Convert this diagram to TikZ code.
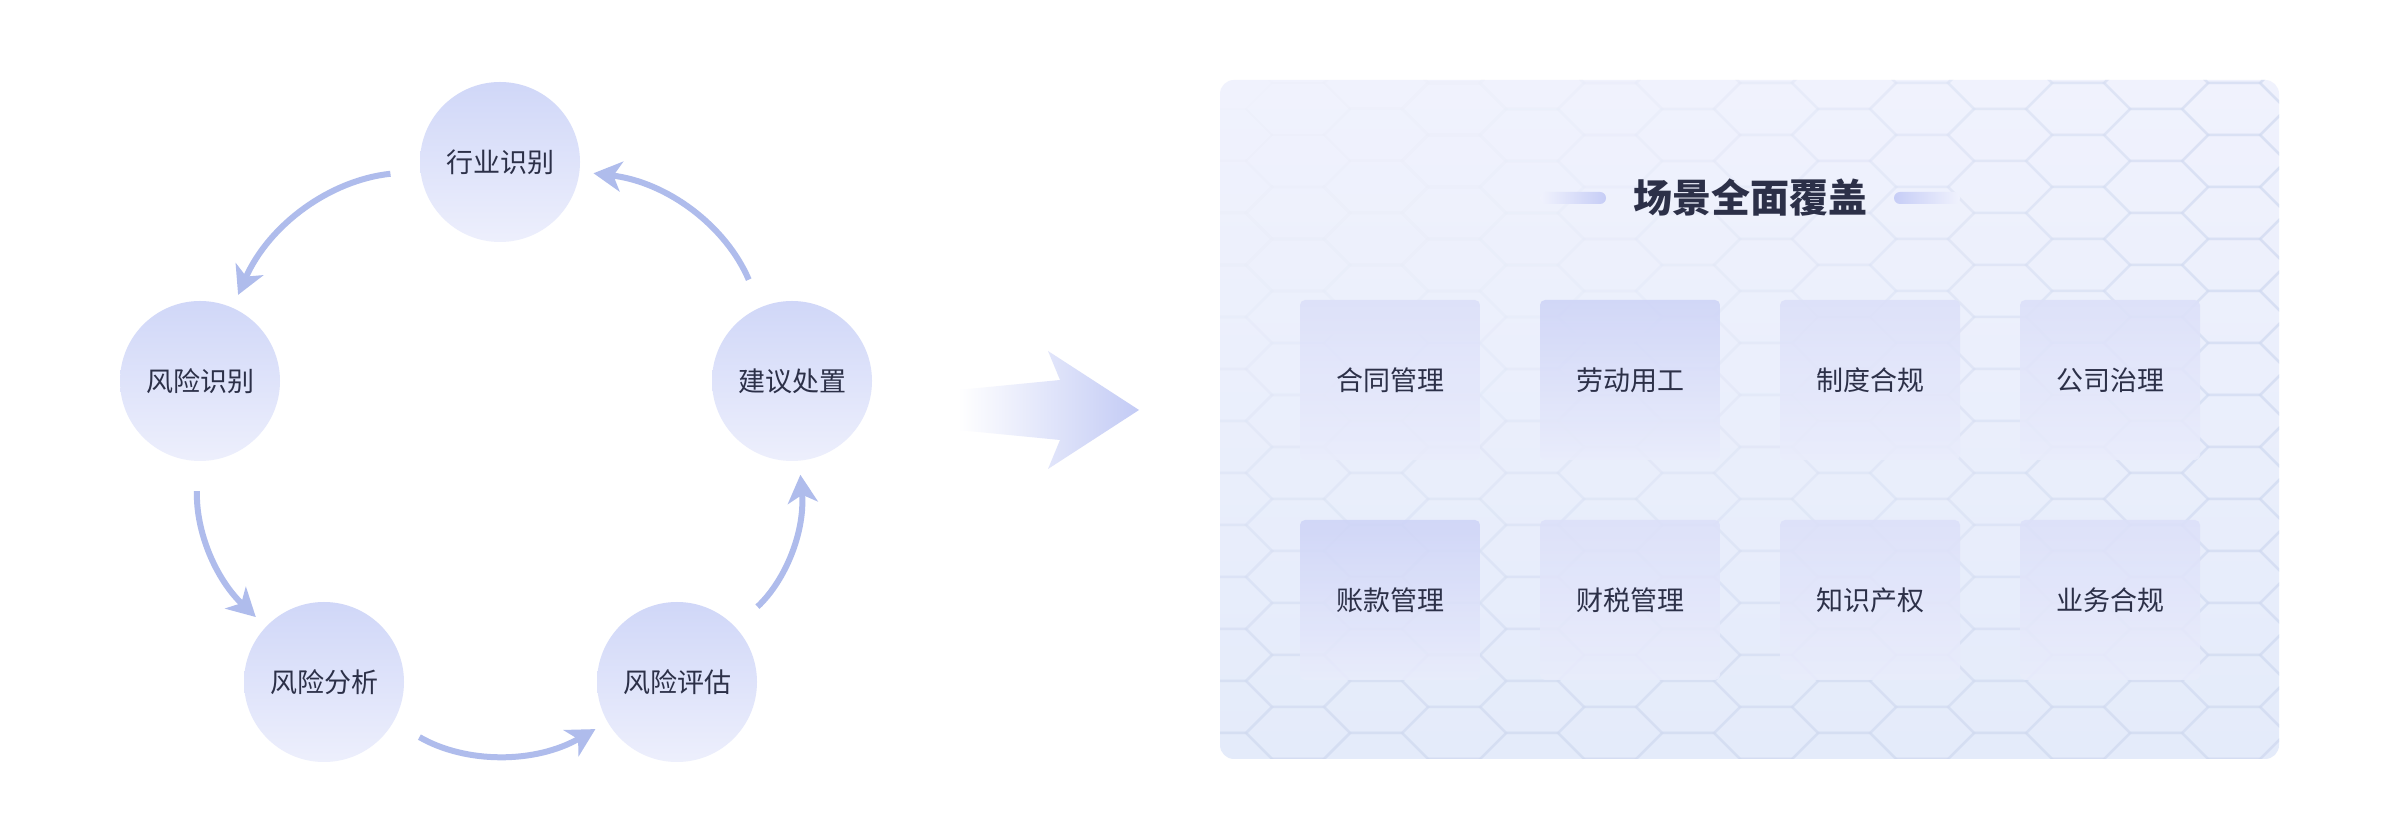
\documentclass[tikz,border=0pt]{standalone}
\usepackage{xcolor}
\usepackage{fontspec}
\setmainfont{Noto Sans CJK SC}
\usepackage{tikz}
\usetikzlibrary{positioning, arrows.meta}

\definecolor{ringtop}{HTML}{D0D7F8}
\definecolor{ringbot}{HTML}{EDEFFC}
\definecolor{flowblue}{HTML}{AFBCEC}
\definecolor{inkdark}{HTML}{2C3048}
\definecolor{panelbg}{HTML}{F0F2FD}
\definecolor{panelbot}{HTML}{E4EBFA}
\definecolor{cardtop}{HTML}{DCE0F9}
\definecolor{carddeep}{HTML}{CED4F7}
\definecolor{cardbot}{HTML}{E9ECFB}
\definecolor{hexline}{HTML}{CDD7EF}
\definecolor{barblue}{HTML}{C6CDF6}
\definecolor{bigarrow}{HTML}{C3CBF5}

\begin{document}
\begin{tikzpicture}[x=1pt, y=1pt, node distance=240pt, on grid,
        stage/.style={circle, minimum size=160pt, inner sep=0pt, top color=ringtop, bottom color=ringbot,
            text=inkdark, font=\fontsize{27}{32}\selectfont},
        scene/.style={rounded corners=5pt, minimum width=180pt, minimum height=160pt, inner sep=0pt,
            top color=cardtop, bottom color=cardbot, fill opacity=0.88, text opacity=1,
            text=inkdark, font=\fontsize{27}{32}\selectfont},
        flow/.style={color=flowblue, line width=6pt, -{Stealth[length=28pt, width=30pt, inset=8pt]},
            shorten <=30pt, shorten >=14pt}]
        \useasboundingbox (0,0) rectangle (2400,840);
        \fill[white] (0,0) rectangle (2400,840);

        % cycle
        \node[stage] (hy) at (500,678) {行业识别};
        \node[stage, below left=219pt and 300pt of hy] (fx) {风险识别};
        \node[stage, below right=219pt and 292pt of hy] (jy) {建议处置};
        \node[stage, below right=301pt and 124pt of fx] (fa) {风险分析};
        \node[stage, right=353pt of fa] (pg) {风险评估};

        \path[flow]
        (hy) edge [bend right=30] (fx)
        (fx) edge [bend right=24] (fa)
        (fa) edge [bend right=30] (pg)
        (pg) edge [bend right=26] (jy)
        (jy) edge [bend right=30] (hy);

        % big arrow
        \shade[left color=white, right color=bigarrow]
            (958,450) -- (1060,460) -- (1048,489) -- (1139,430) -- (1048,371) -- (1060,400) -- (958,410) -- cycle;

        % panel
        \shade[rounded corners=14pt, top color=panelbg, bottom color=panelbot] (1220,81) rectangle (2279,760);
        \begin{scope}
            \clip[rounded corners=14pt] (1220,81) rectangle (2279,760);
            \foreach \i in {0,...,14} {
                \foreach \j in {-1,...,14} {
                    \pgfmathsetmacro{\cx}{1220+78*\i}
                    \pgfmathsetmacro{\cy}{81+52*\j+26*mod(\i,2)}
                    \pgfmathsetmacro{\hexop}{0.4*(max((\cx-1220)/1059,(760-\cy)/680))^2}
                    \draw[hexline, line width=2.5pt, draw opacity=\hexop]
                        (\cx-52,\cy) -- ++(26,26) -- ++(52,0) -- ++(26,-26) -- ++(-26,-26) -- ++(-52,0) -- cycle;
                }
            }
        \end{scope}

        \node[text=inkdark, font=\bfseries\fontsize{39}{44}\selectfont] (title) at (1750,642) {场景全面覆盖};
        \shade[rounded corners=6pt, left color=panelbg, right color=barblue] (1540,636) rectangle (1606,648);
        \shade[rounded corners=6pt, left color=barblue, right color=panelbg] (1894,636) rectangle (1960,648);

        \node[scene] (c1) at (1390,460) {合同管理};
        \node[scene, top color=carddeep, right=of c1] (c2) {劳动用工};
        \node[scene, right=of c2] (c3) {制度合规};
        \node[scene, right=of c3] (c4) {公司治理};
        \node[scene, top color=carddeep, below=220pt of c1] (c5) {账款管理};
        \node[scene, right=of c5] (c6) {财税管理};
        \node[scene, right=of c6] (c7) {知识产权};
        \node[scene, right=of c7] (c8) {业务合规};

    \end{tikzpicture}
\end{document}
